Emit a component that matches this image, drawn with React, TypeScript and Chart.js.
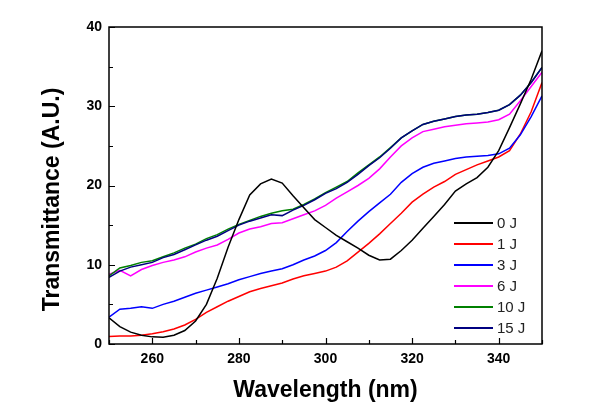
import React, { useEffect, useRef } from "react";
import { Chart, registerables } from "chart.js";

Chart.register(...registerables);

// ---- data ----
const wavelengths = [
  250, 252.5, 255, 257.5, 260, 262.5, 265, 267.5, 270, 272.5, 275, 277.5, 280, 282.5, 285, 287.5,
  290, 292.5, 295, 297.5, 300, 302.5, 305, 307.5, 310, 312.5, 315, 317.5, 320, 322.5, 325, 327.5,
  330, 332.5, 335, 337.5, 340, 342.5, 345, 347.5, 350,
];

const series0J = [
  3.3, 2.2, 1.5, 1.1, 0.9, 0.85, 1.1, 1.7, 2.9, 5.0, 8.3, 12.2, 15.7, 18.8, 20.2, 20.8,
  20.3, 18.7, 17.2, 15.7, 14.7, 13.7, 12.9, 12.1, 11.2, 10.6, 10.7, 11.8, 13.1, 14.6, 16.1, 17.6,
  19.3, 20.2, 21.0, 22.3, 24.4, 27.3, 30.3, 33.4, 37.0,
];
const series1J = [
  0.95, 1.0, 1.0, 1.1, 1.3, 1.55, 1.9, 2.4, 3.1, 4.0, 4.7, 5.4, 6.0, 6.6, 7.0, 7.35,
  7.7, 8.2, 8.6, 8.9, 9.2, 9.7, 10.5, 11.6, 12.7, 13.9, 15.2, 16.5, 17.9, 18.9, 19.8, 20.5,
  21.4, 22.0, 22.6, 23.1, 23.6, 24.4, 26.5, 29.3, 33.0,
];
const series3J = [
  3.4, 4.4, 4.5, 4.7, 4.5, 5.0, 5.4, 5.9, 6.4, 6.8, 7.2, 7.6, 8.1, 8.5, 8.9, 9.2,
  9.5, 10.0, 10.6, 11.1, 11.8, 12.8, 14.2, 15.5, 16.7, 17.8, 18.9, 20.4, 21.5, 22.3, 22.8, 23.1,
  23.4, 23.6, 23.7, 23.8, 24.0, 24.7, 26.4, 28.7, 31.3,
];
const series6J = [
  8.8, 9.3, 8.6, 9.4, 9.9, 10.3, 10.6, 11.0, 11.6, 12.1, 12.5, 13.2, 14.0, 14.5, 14.8, 15.2,
  15.3, 15.8, 16.3, 16.8, 17.5, 18.4, 19.2, 20.0, 20.9, 22.1, 23.6, 25.0, 26.0, 26.8, 27.1, 27.4,
  27.6, 27.8, 27.9, 28.0, 28.3, 29.0, 30.7, 32.5, 34.3,
];
const series10J = [
  8.6, 9.6, 9.9, 10.3, 10.5, 11.0, 11.5, 12.1, 12.6, 13.3, 13.8, 14.5, 15.1, 15.6, 16.1, 16.5,
  16.8, 17.0, 17.6, 18.3, 19.1, 19.8, 20.5, 21.6, 22.6, 23.6, 24.8, 26.0, 26.9, 27.7, 28.1, 28.4,
  28.7, 28.9, 29.0, 29.2, 29.5, 30.2, 31.4, 33.0, 34.9,
];
const series15J = [
  8.4, 9.2, 9.7, 10.0, 10.3, 10.9, 11.3, 11.9, 12.5, 13.1, 13.6, 14.3, 15.0, 15.5, 15.9, 16.3,
  16.2, 16.9, 17.5, 18.2, 19.0, 19.6, 20.4, 21.4, 22.5, 23.5, 24.7, 26.0, 26.9, 27.7, 28.1, 28.4,
  28.7, 28.9, 29.0, 29.2, 29.5, 30.2, 31.4, 33.0, 34.9,
];

const seriesLabels = ["0 J", "1 J", "3 J", "6 J", "10 J", "15 J"];
const seriesColors = ["#000000", "#ff0000", "#0000ff", "#ff00ff", "#008000", "#000080"];
const seriesValues = [series0J, series1J, series3J, series6J, series10J, series15J];
const seriesOrder = [0, 5, 4, 3, 2, 1];

const xMajorTicks = [260, 280, 300, 320, 340];
const xMinorTicks = [250, 270, 290, 310, 330, 350];
const yMajorTicks = [0, 10, 20, 30, 40];
const yMinorTicks = [5, 15, 25, 35];
const xTitle = "Wavelength (nm)";
const yTitle = "Transmittance (A.U.)";

const FONT = "'Liberation Sans', Arial, Helvetica, sans-serif";

const decorPlugin = {
  id: "decor",
  afterDraw(chart: any) {
    const ctx = chart.ctx;
    const { left, right, top, bottom } = chart.chartArea;
    const xs = chart.scales.x;
    const ys = chart.scales.y;
    ctx.save();
    ctx.strokeStyle = "#000";
    ctx.lineWidth = 1.5;
    ctx.strokeRect(left, top, right - left, bottom - top);
    ctx.lineWidth = 1.2;
    ctx.beginPath();
    xMajorTicks.forEach((v) => {
      const p = Math.round(xs.getPixelForValue(v)) + 0.5;
      ctx.moveTo(p, bottom);
      ctx.lineTo(p, bottom - 6);
    });
    xMinorTicks.forEach((v) => {
      const p = Math.round(xs.getPixelForValue(v)) + 0.5;
      ctx.moveTo(p, bottom);
      ctx.lineTo(p, bottom - 4);
    });
    yMajorTicks.forEach((v) => {
      const p = Math.round(ys.getPixelForValue(v)) + 0.5;
      ctx.moveTo(left, p);
      ctx.lineTo(left + 6, p);
    });
    yMinorTicks.forEach((v) => {
      const p = Math.round(ys.getPixelForValue(v)) + 0.5;
      ctx.moveTo(left, p);
      ctx.lineTo(left + 4, p);
    });
    ctx.stroke();

    // axis titles
    ctx.fillStyle = "#000";
    ctx.font = `bold 23px ${FONT}`;
    ctx.textAlign = "center";
    ctx.textBaseline = "alphabetic";
    ctx.fillText(xTitle, (left + right) / 2, 397);
    ctx.save();
    ctx.translate(59, 199.5);
    ctx.rotate(-Math.PI / 2);
    ctx.fillText(yTitle, 0, 0);
    ctx.restore();

    // legend
    ctx.font = `15px ${FONT}`;
    ctx.textAlign = "left";
    ctx.textBaseline = "middle";
    chart.data.datasets.forEach((ds: any, i: number) => {
      const y = 223 + i * 21;
      ctx.strokeStyle = ds.borderColor;
      ctx.lineWidth = 2;
      ctx.beginPath();
      ctx.moveTo(454, y);
      ctx.lineTo(493, y);
      ctx.stroke();
      ctx.fillStyle = "#222";
      ctx.fillText(ds.label, 497, y + 1);
    });
    ctx.restore();
  },
};

export default function App() {
  const ref = useRef<HTMLCanvasElement>(null);
  useEffect(() => {
    if (!ref.current) return;
    const datasets = seriesLabels.map((label, i) => ({
      label,
      data: wavelengths.map((w, j) => ({ x: w, y: seriesValues[i][j] })),
      borderColor: seriesColors[i],
      backgroundColor: seriesColors[i],
      borderWidth: 1.5,
      pointRadius: 0,
      tension: 0,
      fill: false,
      order: seriesOrder[i],
    }));
    const chart = new Chart(ref.current, {
      type: "line",
      data: { datasets },
      options: {
        animation: false,
        responsive: false,
        devicePixelRatio: 1,
        layout: { padding: { left: 0, top: 27, right: 65, bottom: 0 } },
        plugins: { legend: { display: false }, tooltip: { enabled: false } },
        scales: {
          x: {
            type: "linear",
            min: 250,
            max: 350,
            grid: { display: false, drawTicks: false },
            border: { display: false },
            afterBuildTicks: (s: any) => {
              s.ticks = xMajorTicks.map((v) => ({ value: v }));
            },
            afterFit: (s: any) => {
              s.height = 76;
            },
            ticks: {
              padding: 7,
              color: "#000",
              font: { family: FONT, size: 14, weight: "bold" },
              maxRotation: 0,
            },
          },
          y: {
            type: "linear",
            min: 0,
            max: 40,
            grid: { display: false, drawTicks: false },
            border: { display: false },
            afterBuildTicks: (s: any) => {
              s.ticks = yMajorTicks.map((v) => ({ value: v }));
            },
            afterFit: (s: any) => {
              s.width = 109;
            },
            ticks: {
              padding: 7,
              color: "#000",
              font: { family: FONT, size: 14, weight: "bold" },
            },
          },
        },
      },
      plugins: [decorPlugin],
    });
    return () => chart.destroy();
  }, []);
  return (
    <div style={{ position: "fixed", left: 0, top: 0, width: 607, height: 420, background: "#fff" }}>
      <canvas ref={ref} width={607} height={420} />
    </div>
  );
}
